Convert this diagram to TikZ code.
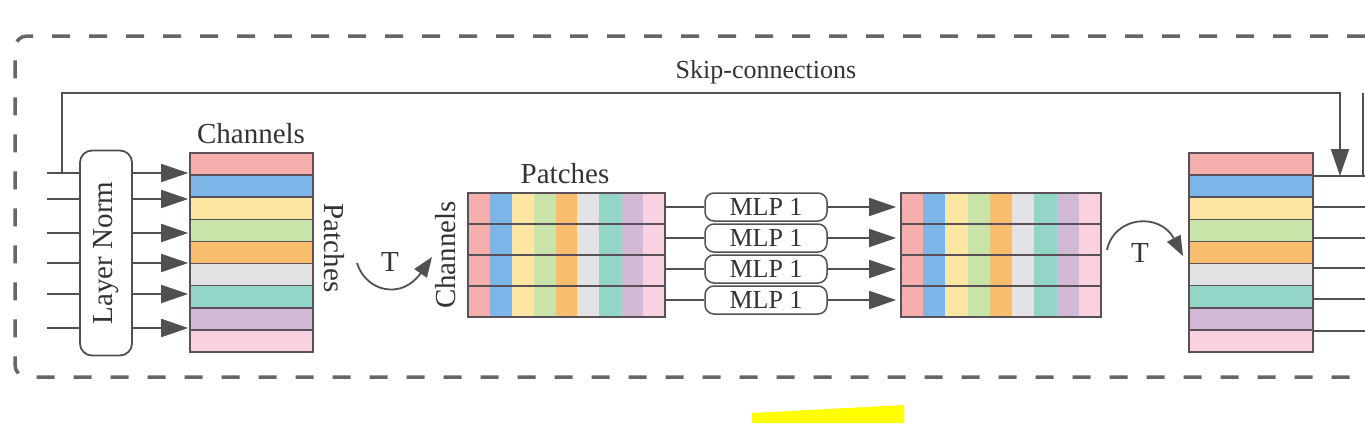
\documentclass[tikz,border=0pt]{standalone}
\usepackage{fontspec}
\setmainfont{Liberation Serif}
\usetikzlibrary{arrows.meta}
\definecolor{c1}{HTML}{F7AFAE}
\definecolor{c2}{HTML}{7CB6E8}
\definecolor{c3}{HTML}{FDE6A2}
\definecolor{c4}{HTML}{C9E4A9}
\definecolor{c5}{HTML}{F9BD6E}
\definecolor{c6}{HTML}{E3E2E5}
\definecolor{c7}{HTML}{93D6C8}
\definecolor{c8}{HTML}{D2B9D5}
\definecolor{c9}{HTML}{F9D1E1}
\definecolor{ink}{HTML}{505050}
\definecolor{edge}{HTML}{5A5058}
\definecolor{dashc}{HTML}{666666}
\definecolor{txt}{HTML}{333333}
\definecolor{hl}{HTML}{FFFF00}
\begin{document}
\begin{tikzpicture}[x=1pt,y=-1pt,
  lab/.style={font=\fontsize{29}{30}\selectfont, text=txt, inner sep=0pt},
  smalllab/.style={font=\fontsize{26}{27}\selectfont, text=txt, inner sep=0pt},
  conn/.style={draw=ink, line width=1.8pt},
  arr/.style={conn, -{Triangle[length=27pt,width=18pt]}},
  skiparr/.style={conn, -{Triangle[length=27pt,width=18pt]}},
  tarr/.style={conn, -{Triangle[length=20pt,width=15pt]}},
  stackcell/.style={draw=edge, line width=1.6pt, inner sep=0pt},
  lnbox/.style={draw=ink, line width=1.8pt, rounded corners=12pt, minimum width=52pt, minimum height=205pt, inner sep=0pt, fill=white},
  mlpbox/.style={draw=ink, line width=1.5pt, rounded corners=9pt, minimum width=122pt, minimum height=28pt, inner sep=0pt, fill=white, font=\fontsize{26}{27}\selectfont, text=txt},
  frame/.style={draw=dashc, line width=3.5pt, dash pattern=on 18pt off 19pt, rounded corners=12pt}
]
\useasboundingbox (0,0) rectangle (1365,423);

% dashed frame
\draw[frame] (1365,36) -- (15,36) -- (15,377) -- (1365,377);

% layer norm
\node[lnbox] (LN) at (106,253) {\rotatebox{90}{\fontsize{29}{30}\selectfont\color{txt}Layer Norm}};

% left stack
\foreach \c [count=\i] in {c1,c2,c3,c4,c5,c6,c7,c8,c9}
  \node[stackcell, fill=\c, minimum width=123pt, minimum height=22.1pt] (A\i) at (251.5,{153+22.1*(\i-0.5)}) {};
\node[lab] (chA) at (251,134) {Channels};
\node[lab] (paA) at (334,248) {\rotatebox{-90}{Patches}};

% inputs and layer norm outputs
\foreach \y [count=\i] in {173,199,233,263,294,328} {
  \coordinate (in\i) at (47,\y);
  \draw[conn] (in\i) -- (in\i -| LN.west);
  \draw[arr, shorten >=1pt] (in\i -| LN.east) -- (in\i -| A1.west);
}

% first transpose
\coordinate (t1s) at (357,263);
\coordinate (t1e) at (432,257);
\draw[tarr] (t1s) .. controls (366,292) and (402,300) .. (t1e);
\node[lab] (T1) at (390,262) {T};

% middle stack (patches x channels)
\foreach \c [count=\k] in {c1,c2,c3,c4,c5,c6,c7,c8,c9}
  \fill[\c] ({468+197/9*(\k-1)},193) rectangle ({468+197/9*\k},317);
\foreach \r in {1,2,3,4}
  \node[stackcell, minimum width=197pt, minimum height=31pt] (P\r) at (566.5,{193+31*(\r-0.5)}) {};
\node[lab] (paP) at (565,174) {Patches};
\node[lab] (chP) at (446,255) {\rotatebox{90}{Channels}};

% MLPs
\foreach \r in {1,2,3,4}
  \node[mlpbox] (M\r) at (766,{193+31*(\r-0.5)-1.5}) {MLP 1};

% right-middle stack
\foreach \c [count=\k] in {c1,c2,c3,c4,c5,c6,c7,c8,c9}
  \fill[\c] ({901+200/9*(\k-1)},193) rectangle ({901+200/9*\k},317);
\foreach \r in {1,2,3,4}
  \node[stackcell, minimum width=200pt, minimum height=31pt] (Q\r) at (1001,{193+31*(\r-0.5)}) {};

\foreach \r in {1,2,3,4} {
  \draw[conn] (M\r.west -| P\r.east) -- (M\r.west);
  \draw[arr, shorten >=4pt] (M\r.east) -- (M\r.east -| Q\r.west);
}

% second transpose
\coordinate (t2s) at (1107,250);
\coordinate (t2e) at (1183,256);
\draw[tarr] (t2s) .. controls (1114,216) and (1160,212) .. (t2e);
\node[lab] (T2) at (1140,253) {T};

% right stack
\foreach \c [count=\i] in {c1,c2,c3,c4,c5,c6,c7,c8,c9}
  \node[stackcell, fill=\c, minimum width=124pt, minimum height=22.1pt] (B\i) at (1251,{153+22.1*(\i-0.5)}) {};

% outputs
\foreach \y [count=\i] in {176,207,238,268,299,331} {
  \coordinate (o\i) at (1365,\y);
  \draw[conn] (o\i -| B1.east) -- (o\i);
}

% skip connection
\coordinate (s1) at (62,93);
\coordinate (s2) at (1340,93);
\draw[skiparr] (in1 -| s1) -- (s1) -- (s2) -- (s2 |- o1);
\node[smalllab] (skip) at (766,72) {Skip-connections};
\coordinate (e1) at (1363,93);
\draw[conn] (e1) -- (e1 |- o1);

% highlighter mark
\fill[hl] (752,423) -- (752,413) -- (904,405) -- (904,423) -- cycle;
\end{tikzpicture}
\end{document}
